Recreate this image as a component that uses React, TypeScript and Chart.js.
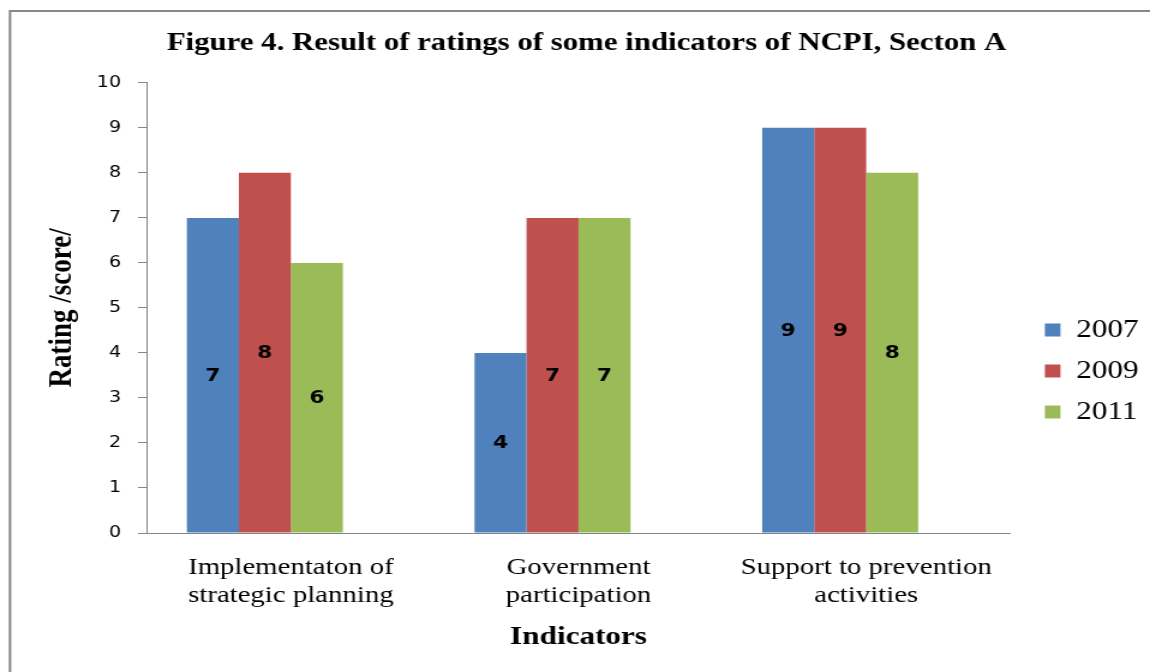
import React, { useEffect, useRef } from 'react';
import { Chart, registerables } from 'chart.js';

Chart.register(...registerables);

// ---- data ----
const categories: string[][] = [
  ['Implementaton of', 'strategic planning'],
  ['Government', 'participation'],
  ['Support to prevention', 'activities'],
];
const seriesNames = ['2007', '2009', '2011'];
const values2007 = [7, 4, 9];
const values2009 = [8, 7, 9];
const values2011 = [6, 7, 8];
const seriesColors = ['#4F81BD', '#C0504D', '#9BBB59'];
const yMin = 0;
const yMax = 10;
const yStep = 1;
const chartTitle = 'Figure 4. Result of ratings of some indicators of NCPI, Secton A';
const yTitle = 'Rating /score/';
const xTitle = 'Indicators';

// ---- geometry (internal canvas px; canvas is stretched horizontally) ----
const W = 958;
const H = 672;
const SX = 1150 / W;
const PAD_L = 32.8;
const PAD_R = 13.6;

const framePlugin = {
  id: 'frame',
  beforeDraw(chart: any) {
    const ctx = chart.ctx;
    ctx.save();
    ctx.fillStyle = '#ffffff';
    ctx.fillRect(0, 0, chart.width, chart.height);
    ctx.strokeStyle = '#878787';
    ctx.lineWidth = 2;
    ctx.beginPath();
    ctx.moveTo(10 / SX, H + 5);
    ctx.lineTo(10 / SX, 11);
    ctx.lineTo(W + 5, 11);
    ctx.stroke();
    ctx.restore();
  },
};

const legendShiftPlugin = {
  id: 'legendShift',
  afterLayout(chart: any) {
    const lg = chart.legend;
    if (lg) {
      lg.left += 14;
      lg.right += 14;
      lg.top += 43;
      lg.bottom += 43;
    }
  },
};

const valueLabelPlugin = {
  id: 'valueLabels',
  afterDatasetsDraw(chart: any) {
    const ctx = chart.ctx;
    ctx.save();
    ctx.font = 'bold 18px "DejaVu Sans"';
    ctx.fillStyle = '#000';
    ctx.textAlign = 'center';
    ctx.textBaseline = 'middle';
    chart.data.datasets.forEach((ds: any, i: number) => {
      if (i >= seriesNames.length) return;
      const meta = chart.getDatasetMeta(i);
      meta.data.forEach((bar: any, j: number) => {
        const v = ds.data[j];
        if (v == null) return;
        const p = bar.getProps(['x', 'y', 'base'], true);
        ctx.fillText(String(v), p.x, (p.y + p.base) / 2 + 1);
      });
    });
    ctx.restore();
  },
};

export default function App() {
  const ref = useRef<HTMLCanvasElement>(null);

  useEffect(() => {
    if (!ref.current) return;
    const seriesValues = [values2007, values2009, values2011];
    const datasets: any[] = seriesNames.map((name, i) => ({
      label: name,
      data: seriesValues[i],
      backgroundColor: seriesColors[i],
      borderWidth: 0,
    }));
    // empty fourth slot (reserved, as in the source chart)
    datasets.push({ label: '', data: [null, null, null], backgroundColor: 'rgba(0,0,0,0)' });

    const chart = new Chart(ref.current, {
      type: 'bar',
      data: { labels: categories, datasets },
      options: {
        animation: false,
        responsive: false,
        devicePixelRatio: 1,
        events: [],
        layout: { padding: { left: PAD_L, right: PAD_R, top: 0, bottom: 16 } },
        datasets: {
          bar: { categoryPercentage: 0.7229, barPercentage: 1 },
        },
        plugins: {
          tooltip: { enabled: false },
          title: {
            display: true,
            text: chartTitle,
            color: '#000',
            font: { family: 'Liberation Serif', size: 25.7, weight: 'bold', lineHeight: 1.2 },
            padding: { top: 28.4, bottom: 23.6 },
          },
          legend: {
            position: 'right',
            align: 'center',
            labels: {
              boxWidth: 13,
              boxHeight: 13,
              padding: 15,
              color: '#000',
              font: { family: 'Liberation Serif', size: 26 },
              filter: (item: any) => item.datasetIndex < seriesNames.length,
            },
          },
        },
        scales: {
          x: {
            grid: { display: false, drawTicks: false },
            border: { display: true, color: '#868686', width: 1 },
            ticks: {
              padding: 20,
              color: '#000',
              maxRotation: 0,
              autoSkip: false,
              font: { family: 'Liberation Serif', size: 24, lineHeight: 1.2 },
            },
            title: {
              display: true,
              text: xTitle,
              color: '#000',
              font: { family: 'Liberation Serif', size: 26, weight: 'bold', lineHeight: 1.2 },
              padding: { top: 0, bottom: 3.4 },
            },
            afterFit: (s: any) => {
              s.height = 123;
            },
          },
          y: {
            min: yMin,
            max: yMax,
            ticks: {
              stepSize: yStep,
              padding: 14,
              color: '#000',
              font: { family: 'DejaVu Sans', size: 16 },
            },
            grid: { drawOnChartArea: false, drawTicks: true, tickLength: 7.5, color: '#868686' },
            border: { display: true, color: '#868686', width: 1 },
            title: {
              display: true,
              text: yTitle,
              color: '#000',
              font: { family: 'Liberation Serif', size: 27, weight: 'bold', lineHeight: 1.2 },
              padding: { top: 3, bottom: 0 },
            },
            afterFit: (s: any) => {
              s.width = 147 / SX - PAD_L;
            },
          },
        },
      } as any,
      plugins: [framePlugin, legendShiftPlugin, valueLabelPlugin],
    });
    return () => chart.destroy();
  }, []);

  return (
    <div
      style={{
        position: 'fixed',
        left: 0,
        top: 0,
        width: 1150,
        height: 672,
        overflow: 'hidden',
        background: '#fff',
      }}
    >
      <div style={{ width: W, height: H, transform: `scaleX(${SX})`, transformOrigin: '0 0' }}>
        <canvas ref={ref} width={W} height={H} style={{ display: 'block' }} />
      </div>
    </div>
  );
}
